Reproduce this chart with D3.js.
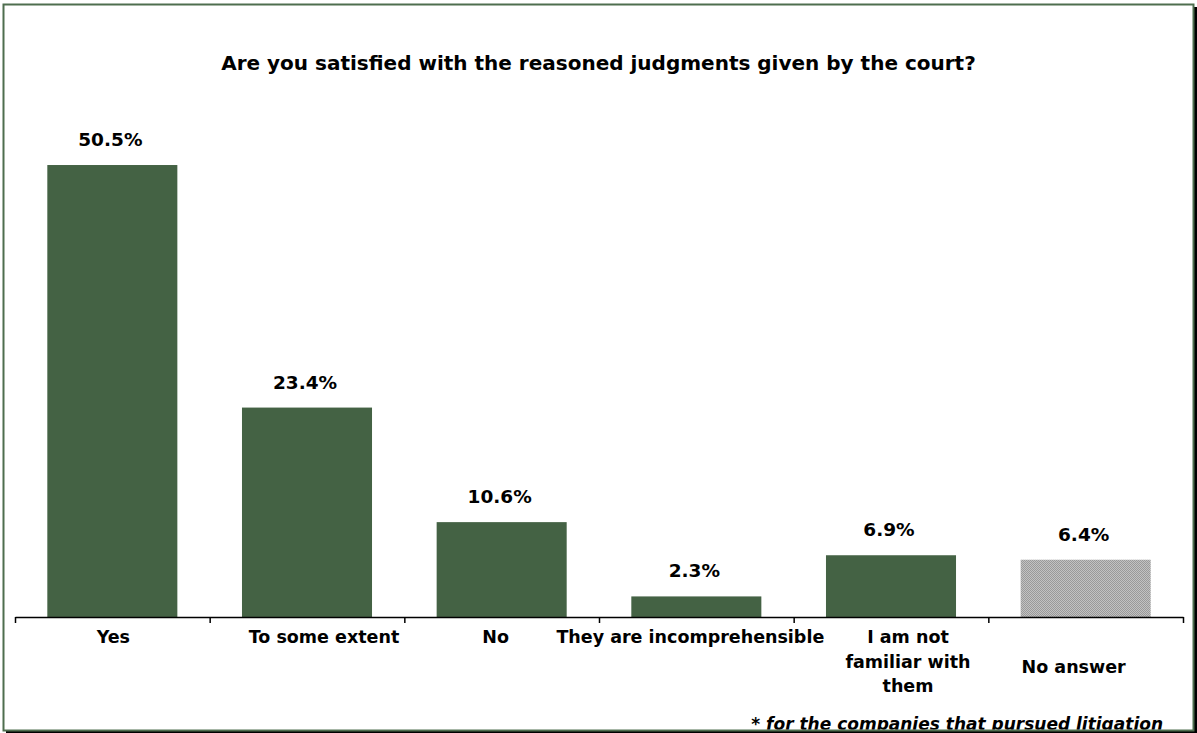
<!DOCTYPE html>
<html>
<head>
<meta charset="utf-8">
<script src="https://cdn.jsdelivr.net/npm/d3@7"></script>
<style>
  html, body { margin: 0; padding: 0; background: #fff; }
  svg { display: block; }
  text { font-family: "DejaVu Sans", Verdana, sans-serif; font-weight: bold; fill: #000; }
</style>
</head>
<body>
<svg id="chart" width="1197" height="733"></svg>
<script>
// Survey answers and their shares (%)
const categories = ["Yes", "To some extent", "No", "They are incomprehensible", "I am not familiar with them", "No answer"];
const categoryLines = [["Yes"], ["To some extent"], ["No"], ["They are incomprehensible"], ["I am not", "familiar with", "them"], ["No answer"]];
const values = [50.5, 23.4, 10.6, 2.3, 6.9, 6.4];
const titleText = "Are you satisfied with the reasoned judgments given by the court?";
const footnoteText = "* for the companies that pursued litigation";

// Layout
const W = 1197, H = 733;
const plot = { left: 15, right: 1183, top: 80, bottom: 617 };
const barColor = "#446244";
const frameColor = "#4f6e4f";
const labelNudge = [1, 17, -6, -6, 17, -12];   // horizontal offset of category labels
const labelDrop = [0, 0, 0, 0, 0, 30];          // extra vertical offset of category labels

const svg = d3.select("#chart");
const defs = svg.append("defs");

// Fine grey dither used for the "No answer" bar
const pat = defs.append("pattern")
  .attr("id", "dither").attr("patternUnits", "userSpaceOnUse")
  .attr("width", 2).attr("height", 2);
pat.append("rect").attr("width", 2).attr("height", 2).attr("fill", "#c2c2c2");
pat.append("rect").attr("width", 1).attr("height", 1).attr("fill", "#999999");
pat.append("rect").attr("x", 1).attr("y", 1).attr("width", 1).attr("height", 1).attr("fill", "#999999");

// Frame with a dark drop shadow on the right and bottom
svg.append("rect").attr("x", 6).attr("y", 7).attr("width", W - 6).attr("height", H - 7).attr("fill", "#000");
svg.append("rect").attr("x", 3.5).attr("y", 4.5).attr("width", 1190).attr("height", 726)
  .attr("fill", "#fff").attr("stroke", frameColor).attr("stroke-width", 2);

const x = d3.scaleBand().domain(categories).range([plot.left, plot.right]).padding(0);
const xi = d3.scaleLinear().domain([0, categories.length]).range([plot.left, plot.right]);
const y = d3.scaleLinear().domain([0, 60]).range([plot.bottom, plot.top]);
const bw = x.bandwidth();
const barW = bw * 0.668;

// Title
svg.append("text")
  .attr("x", W / 2).attr("y", 70)
  .attr("text-anchor", "middle")
  .style("font-size", "20px")
  .text(titleText);

// Bars
svg.append("g").selectAll("rect")
  .data(values)
  .join("rect")
  .attr("x", (d, i) => x(categories[i]) + (bw - barW) / 2)
  .attr("width", barW)
  .attr("y", d => y(d))
  .attr("height", d => y(0) - y(d))
  .attr("fill", (d, i) => i === categories.length - 1 ? "url(#dither)" : barColor);

// Value labels
svg.append("g").selectAll("text")
  .data(values)
  .join("text")
  .attr("x", (d, i) => x(categories[i]) + bw / 2 - 2)
  .attr("y", d => y(d) - 19)
  .attr("text-anchor", "middle")
  .style("font-size", "18.5px")
  .text(d => d.toFixed(1) + "%");

// Category axis with ticks between categories
const axis = svg.append("g")
  .attr("transform", `translate(0,${plot.bottom})`)
  .call(d3.axisBottom(xi).tickValues(d3.range(categories.length + 1)).tickFormat("").tickSize(6).tickSizeOuter(0));
axis.select(".domain").attr("stroke", "#000").attr("stroke-width", 1.5);
axis.selectAll(".tick line").attr("stroke", "#000").attr("stroke-width", 1.5);

// Category labels
const lab = svg.append("g").selectAll("text")
  .data(categories)
  .join("text")
  .attr("x", (d, i) => x(d) + bw / 2 + labelNudge[i])
  .attr("y", (d, i) => plot.bottom + 26 + labelDrop[i])
  .attr("text-anchor", "middle")
  .style("font-size", "17.5px");
lab.selectAll("tspan")
  .data((d, i) => categoryLines[i])
  .join("tspan")
  .attr("x", function () { return d3.select(this.parentNode).attr("x"); })
  .attr("dy", (d, j) => j === 0 ? 0 : 24.5)
  .text(d => d);

// Footnote, clipped by the frame's bottom edge
defs.append("clipPath").attr("id", "inner")
  .append("rect").attr("x", 4).attr("y", 5).attr("width", 1189).attr("height", 724.5);
svg.append("text")
  .attr("clip-path", "url(#inner)")
  .attr("x", 1163).attr("y", 729.5)
  .attr("text-anchor", "end")
  .style("font-size", "17px")
  .style("font-style", "italic")
  .text(footnoteText);
</script>
</body>
</html>
